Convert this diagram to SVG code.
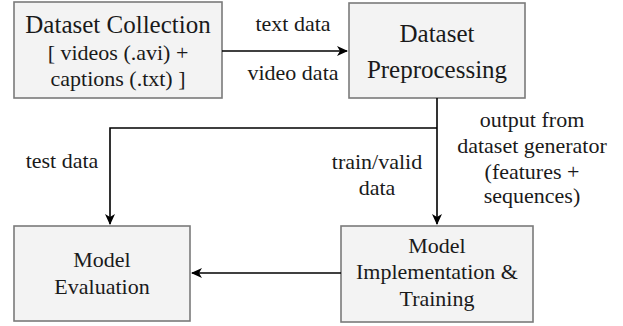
<svg xmlns="http://www.w3.org/2000/svg" width="623" height="326" viewBox="0 0 623 326">
<style>
.box{fill:#f3f3f3;stroke:#7a7a7a;stroke-width:1.6}
.t{font-family:"Liberation Serif","Times New Roman",serif;fill:#1a1a1a;text-anchor:middle}
.big{font-size:25px}
.sm{font-size:22px}
.ln{fill:none;stroke:#000;stroke-width:1.6}
</style>
<defs>
<marker id="ah" markerWidth="12" markerHeight="10" refX="10" refY="5" orient="auto" markerUnits="userSpaceOnUse">
<path d="M0,0 L11,5 L0,10 L3,5 Z" fill="#000"/>
</marker>
</defs>
<g id="dataset-collection">
<rect class="box" x="14" y="2" width="208" height="96"/>
<text class="t big" x="118" y="33">Dataset Collection</text>
<text class="t sm" x="118" y="60">[ videos (.avi) +</text>
<text class="t sm" x="118" y="86">captions (.txt) ]</text>
</g>
<g id="dataset-preprocessing">
<rect class="box" x="349" y="3" width="176" height="95"/>
<text class="t big" x="437" y="42">Dataset</text>
<text class="t big" x="437" y="78">Preprocessing</text>
</g>
<g id="model-evaluation">
<rect class="box" x="14" y="226" width="176" height="95"/>
<text class="t sm" x="102" y="267">Model</text>
<text class="t sm" x="102" y="294">Evaluation</text>
</g>
<g id="model-implementation">
<rect class="box" x="341" y="226" width="192" height="96"/>
<text class="t sm" x="437" y="253">Model</text>
<text class="t sm" x="437" y="279">Implementation &amp;</text>
<text class="t sm" x="437" y="306">Training</text>
</g>
<g id="connectors">
<path class="ln" d="M222,51 L347,51" marker-end="url(#ah)"/>
<path class="ln" d="M437,98 L437,224" marker-end="url(#ah)"/>
<path class="ln" d="M437,128 L110,128 L110,224" marker-end="url(#ah)"/>
<path class="ln" d="M341,273 L192,273" marker-end="url(#ah)"/>
<text class="t sm" x="293" y="31">text data</text>
<text class="t sm" x="293" y="80">video data</text>
<text class="t sm" x="62" y="168">test data</text>
<text class="t sm" x="377" y="169">train/valid</text>
<text class="t sm" x="377" y="195">data</text>
<text class="t sm" x="532" y="127">output from</text>
<text class="t sm" x="532" y="153">dataset generator</text>
<text class="t sm" x="532" y="179">(features +</text>
<text class="t sm" x="532" y="203">sequences)</text>
</g>
</svg>
